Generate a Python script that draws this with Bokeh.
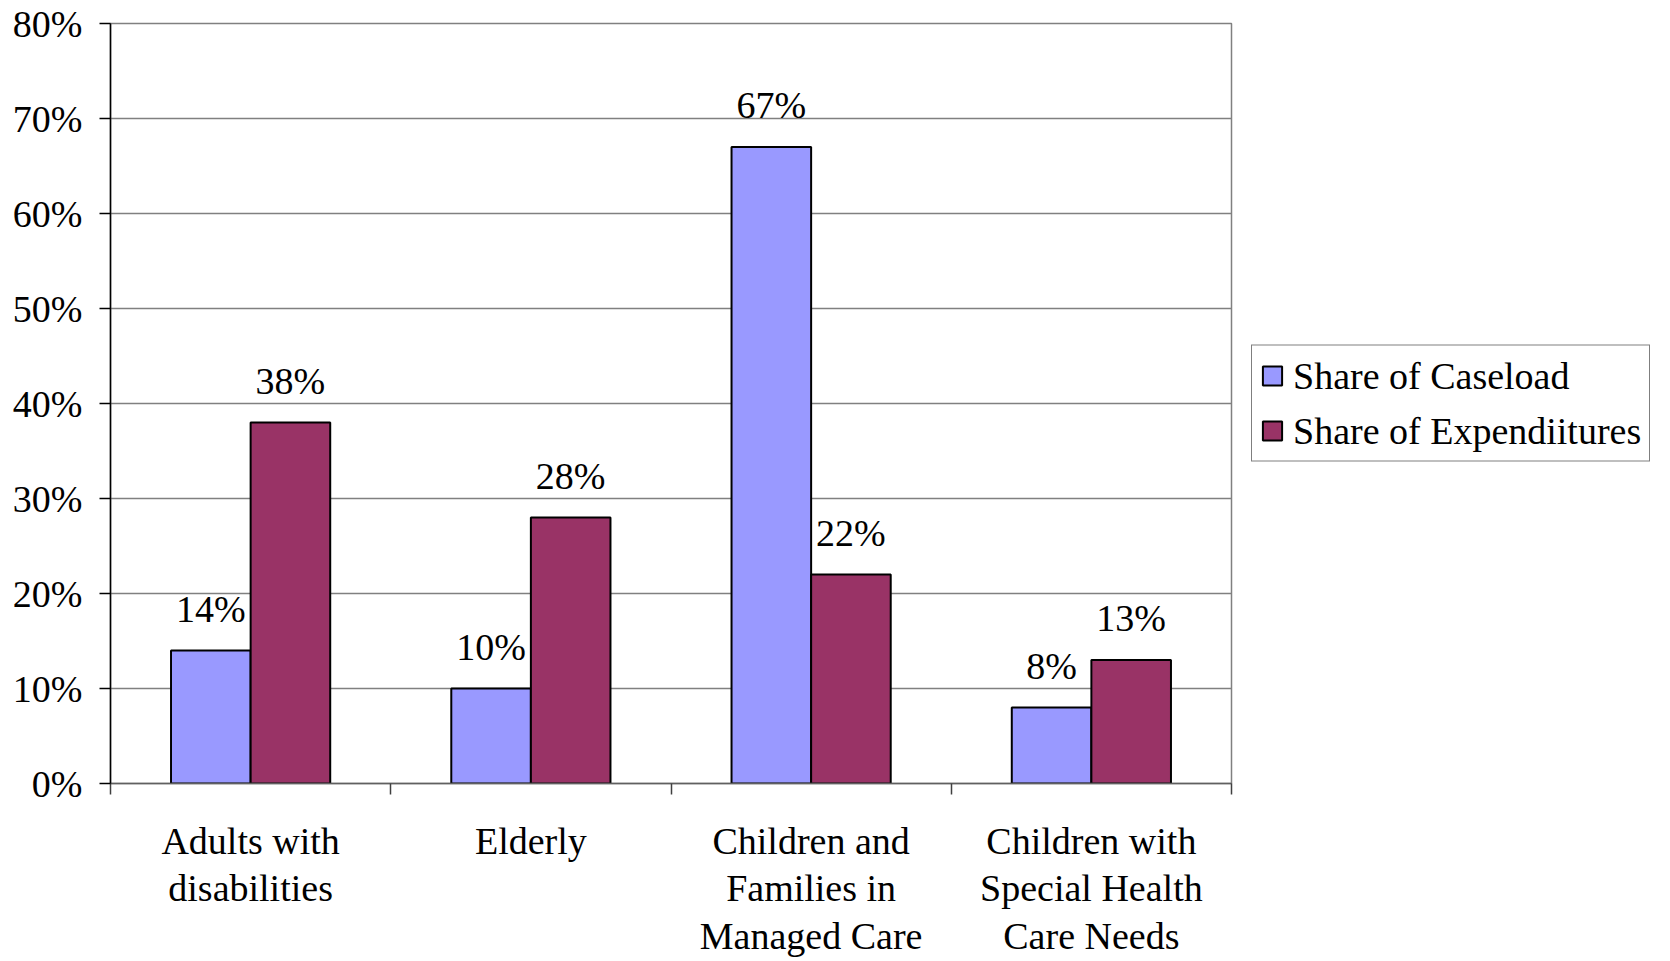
from bokeh.plotting import figure
from bokeh.models import (Range1d, LinearAxis, FixedTicker, NumeralTickFormatter,
                          ColumnDataSource, LabelSet, Legend, LegendItem)
from bokeh.transform import dodge
from bokeh.embed import file_html
from bokeh.resources import INLINE

# ---- data ----
categories = ["Adults with disabilities", "Elderly",
              "Children and Families in Managed Care",
              "Children with Special Health Care Needs"]
category_labels = ["Adults with\ndisabilities", "Elderly",
                   "Children and\nFamilies in\nManaged Care",
                   "Children with\nSpecial Health\nCare Needs"]
series_names = ["Share of Caseload", "Share of Expendiitures"]
caseload = [0.14, 0.10, 0.67, 0.08]
expenditures = [0.38, 0.28, 0.22, 0.13]
y_ticks = [0.0, 0.1, 0.2, 0.3, 0.4, 0.5, 0.6, 0.7, 0.8]
colors = ["#9999FF", "#993366"]

FONT = "Liberation Serif"
FS = "38px"

n = len(categories)
centers = [i + 0.5 for i in range(n)]          # category slot centres
edges = [float(i) for i in range(n + 1)]       # category slot boundaries

src = ColumnDataSource(dict(
    cat=categories,
    xc=centers,
    caseload=caseload,
    expenditures=expenditures,
    cl_lbl=[f"{round(v * 100)}%" for v in caseload],
    ex_lbl=[f"{round(v * 100)}%" for v in expenditures],
))

p = figure(frame_width=1121, frame_height=760,
           x_range=Range1d(0, n), y_range=Range1d(0, 0.8),
           x_axis_location=None, y_axis_location=None,
           output_backend="svg", toolbar_location=None,
           min_border_left=110, min_border_top=23, min_border_bottom=0,
           min_border_right=0)

bw = 0.284
r1 = p.vbar(x=dodge("xc", -bw / 2), top="caseload", width=bw,
            source=src, fill_color=colors[0], line_color="black", line_width=2)
r2 = p.vbar(x=dodge("xc", bw / 2), top="expenditures", width=bw,
            source=src, fill_color=colors[1], line_color="black", line_width=2)

for xs, col, top in ((-bw / 2, "cl_lbl", "caseload"), (bw / 2, "ex_lbl", "expenditures")):
    p.add_layout(LabelSet(x=dodge("xc", xs), y=top, text=col,
                          source=src, y_offset=29, text_align="center",
                          text_baseline="alphabetic", text_font=FONT,
                          text_font_size=FS, text_color="black"))

# y axis
yax = LinearAxis(ticker=FixedTicker(ticks=y_ticks),
                 formatter=NumeralTickFormatter(format="0%"))
yax.major_tick_out = 11
yax.major_tick_in = 0
yax.minor_tick_out = 0
yax.minor_tick_in = 0
yax.axis_line_color = "black"
yax.axis_line_width = 1.5
yax.major_tick_line_color = "black"
yax.major_tick_line_width = 1.5
yax.major_label_standoff = 17
yax.major_label_text_font = FONT
yax.major_label_text_font_size = FS
yax.major_label_text_color = "black"
p.add_layout(yax, "left")

# x axis: category names at slot centres, ticks at slot boundaries
xax = LinearAxis(ticker=FixedTicker(ticks=centers, minor_ticks=edges))
xax.major_label_overrides = {c: lbl for c, lbl in zip(centers, category_labels)}
xax.major_tick_out = 0
xax.major_tick_in = 0
xax.minor_tick_out = 11
xax.minor_tick_in = 0
xax.minor_tick_line_color = "#404040"
xax.minor_tick_line_width = 1.5
xax.axis_line_color = "#606060"
xax.axis_line_width = 1.5
xax.major_label_standoff = 25
xax.major_label_text_font = FONT
xax.major_label_text_font_size = FS
xax.major_label_text_color = "black"
xax.major_label_text_line_height = 1.14
p.add_layout(xax, "below")

p.xgrid.visible = False
p.ygrid.ticker = FixedTicker(ticks=y_ticks)
p.ygrid.grid_line_color = "#808080"
p.ygrid.grid_line_width = 1.5
p.outline_line_color = "#808080"
p.outline_line_width = 1.5
p.background_fill_color = "white"
p.border_fill_color = "white"

legend = Legend(items=[LegendItem(label=series_names[0], renderers=[r1]),
                       LegendItem(label=series_names[1], renderers=[r2])],
                location="left", orientation="vertical")
legend.label_text_font = FONT
legend.label_text_font_size = FS
legend.label_text_color = "black"
legend.glyph_width = 24
legend.glyph_height = 24
legend.label_height = 36
legend.label_standoff = 9
legend.spacing = 11
legend.padding = 8
legend.margin = 20
legend.border_line_color = "black"
legend.border_line_width = 1.5
legend.background_fill_color = "white"
legend.background_fill_alpha = 1.0
p.add_layout(legend, "right")

open("out.html", "w").write(file_html(p, INLINE))
